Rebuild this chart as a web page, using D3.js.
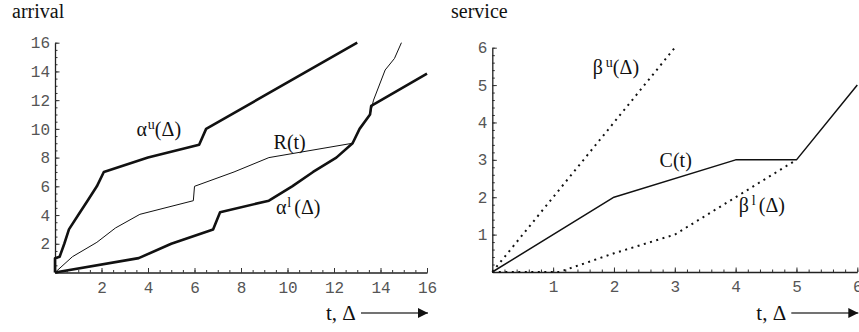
<!DOCTYPE html>
<html>
<head>
<meta charset="utf-8">
<script src="https://cdn.jsdelivr.net/npm/d3@7"></script>
<style>
  body { margin: 0; background: #fff; }
  .tick text { font-family: "Liberation Mono", monospace; font-size: 16px; fill: #555; }
  .lbl { font-family: "Liberation Serif", "Times New Roman", serif; fill: #111; }
</style>
</head>
<body>
<div id="chart"></div>
<script>
// arrival curves (t, value)
const alphaUpper = [[0,0],[0,1],[0.2,1.1],[0.4,2],[0.6,3],[1,4],[1.4,5],[1.8,6],[2.1,7],[4,8],[6.2,8.9],[6.5,10],[13,16]];
const alphaLower = [[0,0],[3.6,1],[5,2],[6.8,3],[7.1,4.2],[9.2,5],[10.2,6],[11.1,7],[12.1,8],[12.8,9],[13.1,10],[13.55,11],[13.6,11.6],[16,13.85]];
const arrivalR = [[0,0],[0.75,1.1],[1.8,2.1],[2.6,3.1],[3.65,4.05],[5.95,5],[6,6],[7.7,7],[9.2,8],[12.8,9],[13.1,10],[13.55,11],[13.7,12],[14.2,14.1],[14.6,14.9],[14.9,16]];
// service curves
const betaUpper = [[0,0],[3,6]];
const betaLower = [[0,0],[1.1,0],[2,0.5],[3,1],[4,2],[5,3]];
const serviceC = [[0,0],[2,2],[4,3],[5,3],[6,5]];

const arrivalXTicks = [2,4,6,8,10,12,14,16];
const arrivalYTicks = [2,4,6,8,10,12,14,16];
const serviceXTicks = [1,2,3,4,5,6];
const serviceYTicks = [1,2,3,4,5,6];

const W = 859, H = 332;
const svg = d3.select("#chart").append("svg")
  .attr("width", W).attr("height", H);

svg.append("defs").append("marker")
  .attr("id", "arrow")
  .attr("viewBox", "0 0 10 10")
  .attr("refX", 10).attr("refY", 5)
  .attr("markerWidth", 12).attr("markerHeight", 10)
  .attr("markerUnits", "userSpaceOnUse")
  .attr("orient", "auto")
  .append("path").attr("d", "M0,0L10,5L0,10Z").attr("fill", "#111");

function panel(opt) {
  const x = d3.scaleLinear().domain([0, opt.xMax]).range(opt.xRange);
  const y = d3.scaleLinear().domain([0, opt.yMax]).range(opt.yRange);
  const g = svg.append("g");
  const fmt = d3.format("d");

  // minor ticks
  g.append("g").attr("transform", `translate(0,${opt.yRange[0]})`)
    .call(d3.axisBottom(x).tickValues(d3.range(0, opt.xMax + 1e-9, opt.xMinor))
      .tickSizeInner(-2.5).tickSizeOuter(0).tickFormat(""))
    .call(a => a.select(".domain").remove());
  g.append("g").attr("transform", `translate(${opt.xRange[0]},0)`)
    .call(d3.axisLeft(y).tickValues(d3.range(0, opt.yMax + 1e-9, opt.yMinor))
      .tickSizeInner(-2.5).tickSizeOuter(0).tickFormat(""))
    .call(a => a.select(".domain").remove());

  // major axes
  g.append("g").attr("transform", `translate(0,${opt.yRange[0]})`)
    .call(d3.axisBottom(x).tickValues(opt.xTicks).tickFormat(fmt)
      .tickSizeInner(-4.5).tickSizeOuter(0).tickPadding(9));
  g.append("g").attr("transform", `translate(${opt.xRange[0]},0)`)
    .call(d3.axisLeft(y).tickValues(opt.yTicks).tickFormat(fmt)
      .tickSizeInner(-4.5).tickSizeOuter(0).tickPadding(5));
  g.selectAll(".domain").attr("stroke", "#222").attr("stroke-width", 1.3);
  g.selectAll(".tick line").attr("stroke", "#333").attr("stroke-width", 1);

  const line = d3.line().x(d => x(d[0])).y(d => y(d[1]));
  opt.series.forEach(s => {
    g.append("path").datum(s.data)
      .attr("d", line)
      .attr("fill", "none")
      .attr("stroke", "#111")
      .attr("stroke-width", s.width)
      .attr("stroke-linejoin", "round")
      .attr("stroke-dasharray", s.dash || null);
  });

  // curve labels
  opt.labels.forEach(l => {
    const t = g.append("text").attr("class", "lbl")
      .attr("x", x(l.at[0])).attr("y", y(l.at[1]))
      .attr("font-size", 20);
    t.append("tspan").text(l.base);
    if (l.sup) t.append("tspan").attr("font-size", 14).attr("dy", -7).attr("dx", l.supGap || 0).text(l.sup);
    if (l.rest) t.append("tspan").attr("dy", l.sup ? 7 : 0).attr("dx", l.restGap || 0).text(l.rest);
  });

  // panel title
  g.append("text").attr("class", "lbl")
    .attr("x", opt.titleX).attr("y", 18)
    .attr("font-size", 20).text(opt.title);

  // axis name with arrow
  const ax = opt.xRange[1];
  g.append("text").attr("class", "lbl")
    .attr("x", ax - 101).attr("y", 320)
    .attr("font-size", 21).text("t, \u0394");
  g.append("line")
    .attr("x1", ax - 66).attr("x2", ax + 1)
    .attr("y1", 313).attr("y2", 313)
    .attr("stroke", "#444").attr("stroke-width", 1.3)
    .attr("marker-end", "url(#arrow)");
}

panel({
  title: "arrival", titleX: 12,
  xMax: 16, yMax: 16, xRange: [55, 427], yRange: [272.5, 42.7],
  xTicks: arrivalXTicks, yTicks: arrivalYTicks, xMinor: 0.5, yMinor: 0.5,
  series: [
    { data: alphaUpper, width: 2.6 },
    { data: alphaLower, width: 2.6 },
    { data: arrivalR, width: 1 }
  ],
  labels: [
    { at: [3.5, 9.5], base: "\u03b1", sup: "u", rest: "(\u0394)", supGap: 1 },
    { at: [9.4, 8.6], base: "R(t)" },
    { at: [9.5, 4.1], base: "\u03b1", sup: "l", rest: "(\u0394)", supGap: 1, restGap: 3 }
  ]
});

panel({
  title: "service", titleX: 451,
  xMax: 6, yMax: 6, xRange: [492.3, 857.3], yRange: [272, 47.7],
  xTicks: serviceXTicks, yTicks: serviceYTicks, xMinor: 0.2, yMinor: 0.2,
  series: [
    { data: betaUpper, width: 2, dash: "2,4.5" },
    { data: betaLower, width: 2, dash: "2,4.5" },
    { data: serviceC, width: 1.5 }
  ],
  labels: [
    { at: [1.65, 5.3], base: "\u03b2", sup: "u", rest: "(\u0394)", supGap: 3 },
    { at: [2.75, 2.8], base: "C(t)" },
    { at: [4.05, 1.6], base: "\u03b2", sup: "l", rest: "(\u0394)", supGap: 3, restGap: 3 }
  ]
});
</script>
</body>
</html>
